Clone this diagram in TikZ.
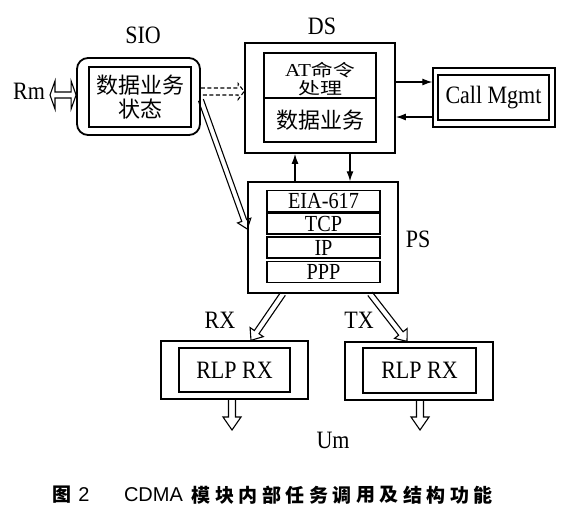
\documentclass[tikz,border=0pt]{standalone}
\usepackage{fontspec}
\usepackage{graphicx}
\setmainfont{Liberation Serif}[FakeStretch=0.88]
\newfontfamily\cjk{Noto Sans CJK SC}
\newfontfamily\capfont{Noto Sans CJK SC}
\newfontfamily\capsans{Liberation Sans}
\usetikzlibrary{calc,arrows.meta}
\newcommand{\latf}{\fontsize{25}{26}\selectfont}
\newcommand{\cjkf}{\cjk\fontsize{22}{24}\selectfont}
% single hollow block arrow: [opts]{from}{to}{shaft half width}{head half width}{head length}
\newcommand{\hollowarrow}[6][]{%
  \coordinate (ha-a) at (#2);
  \coordinate (ha-b) at (#3);
  \coordinate (ha-c) at ($(ha-b)!#6!(ha-a)$);
  \draw[blockarr,#1] ($(ha-a)!#4!90:(ha-b)$) -- ($(ha-c)!#4!-90:(ha-a)$) -- ($(ha-c)!#5!-90:(ha-a)$) -- (ha-b) -- ($(ha-c)!#5!90:(ha-a)$) -- ($(ha-c)!#4!90:(ha-a)$) -- ($(ha-a)!#4!-90:(ha-b)$);
}
% double-headed hollow block arrow
\newcommand{\hollowdarrow}[6][]{%
  \coordinate (hd-a) at (#2);
  \coordinate (hd-b) at (#3);
  \coordinate (hd-ca) at ($(hd-a)!#6!(hd-b)$);
  \coordinate (hd-cb) at ($(hd-b)!#6!(hd-a)$);
  \draw[blockarr,#1] (hd-a) -- ($(hd-ca)!#5!90:(hd-b)$) -- ($(hd-ca)!#4!90:(hd-b)$) -- ($(hd-cb)!#4!-90:(hd-a)$) -- ($(hd-cb)!#5!-90:(hd-a)$) -- (hd-b) -- ($(hd-cb)!#5!90:(hd-a)$) -- ($(hd-cb)!#4!90:(hd-a)$) -- ($(hd-ca)!#4!-90:(hd-b)$) -- ($(hd-ca)!#5!-90:(hd-b)$) -- cycle;
}
\tikzset{
  box/.style={draw, line width=1.3pt, inner sep=0pt},
  outerbox/.style={draw, line width=1.8pt, inner sep=0pt},
  layer/.style={box, minimum width=113pt, minimum height=21pt, text height=15pt, text depth=0pt, font=\fontsize{23}{24}\selectfont},
  lbl/.style={inner sep=0pt, font=\latf},
  sarr/.style={line width=1.2pt, -{Latex[length=10pt,width=7pt]}},
  blockarr/.style={line width=1.1pt, line join=miter},
  capstyle/.style={inner sep=0pt, font=\capfont\bfseries\fontsize{19}{21}\selectfont},
  capsansstyle/.style={inner sep=0pt, font=\capsans\fontsize{20}{22}\selectfont}
}
\begin{document}
\begin{tikzpicture}[x=1pt,y=-1pt]
\fill[white] (0,0) rectangle (569,517);
\useasboundingbox (0,0) rectangle (569,517);

% SIO
\node[lbl] (siolbl) at (143,35.5) {SIO};
\node[outerbox, rounded corners=11pt, minimum width=123pt, minimum height=77pt] (sio) at (138.5,96.5) {};
\node[box, minimum width=102pt, minimum height=60pt, align=center, font=\cjkf] (siotxt) at (140,97) {数据业务\\状态};

% DS
\node[lbl] (dslbl) at (322,26) {DS};
\node[outerbox, minimum width=150pt, minimum height=110pt] (ds) at (320,98) {};
\node[box, minimum width=112pt, minimum height=45pt] (dsat) at (320,75.5) {};
\node[inner sep=0pt, align=center, font=\fontsize{22}{18}\selectfont] (dsattxt) at (320,79.5) {\scalebox{1}[0.76]{{\fontsize{24}{24}\selectfont AT}{\cjk 命令}}\\\scalebox{1}[0.76]{\cjk 处理}};
\node[box, minimum width=112pt, minimum height=44pt, font=\cjkf] (dsdata) at (320,120) {数据业务};

% Call Mgmt
\node[box, minimum width=122pt, minimum height=59pt] (call) at (494,97.5) {};
\node[box, minimum width=111pt, minimum height=45pt, font=\latf] (callin) at (493.5,97.5) {Call Mgmt};

% PS
\node[lbl] (pslbl) at (418,239.5) {PS};
\node[draw, line width=1.5pt, inner sep=0pt, minimum width=150pt, minimum height=111pt] (ps) at (323,237.5) {};
\node[layer] (eia) at (323.5,201) {EIA-617};
\node[layer] (tcp) at (323.5,223.5) {TCP};
\node[layer] (ip) at (323.5,247.5) {IP};
\node[layer] (ppp) at (323.5,272) {PPP};

% RLP boxes
\node[box, minimum width=147pt, minimum height=58pt] (rlpl) at (234.5,370) {};
\node[box, minimum width=111pt, minimum height=44pt, font=\latf] (rlplin) at (234.5,370) {RLP RX};
\node[box, minimum width=148pt, minimum height=58pt] (rlpr) at (419,371) {};
\node[box, minimum width=113pt, minimum height=45pt, font=\latf] (rlprin) at (419.5,370.5) {RLP RX};

% labels
\node[lbl] (rmlbl) at (29,91.5) {Rm};
\node[lbl] (rxlbl) at (220,320) {RX};
\node[lbl] (txlbl) at (359,320) {TX};
\node[lbl] (umlbl) at (333,440) {Um};

% solid arrows
\draw[sarr] (ds.east |- 0,82) -- (call.west |- 0,82);
\draw[sarr] (call.west |- 0,117) -- (ds.east |- 0,117);
\draw[sarr] (ps.north -| 295,0) -- (ds.south -| 295,0);
\draw[sarr] (ds.south -| 350,0) -- (ps.north -| 350,0);

% hollow arrows
\coordinate (rmtip) at (50,95);
\hollowdarrow{rmtip}{sio.west |- rmtip}{3pt}{14pt}{5pt}
\hollowarrow[dash pattern=on 4pt off 2.5pt]{sio.east |- 0,91.5}{ds.west |- 0,91.5}{3.5pt}{8pt}{6pt}
\hollowarrow{sio.east |- 0,100}{ps.west |- 0,229}{2.6pt}{7pt}{9pt}
\hollowarrow{$(ps.south)+(-40,0)$}{$(rlpl.north)+(16.5,0)$}{2.8pt}{8pt}{10pt}
\hollowarrow{$(ps.south)+(47,0)$}{$(rlpr.north)+(-12,0)$}{2.8pt}{8pt}{10pt}
\coordinate (downl) at (232,430);
\coordinate (downr) at (420,430);
\hollowarrow{rlpl.south -| downl}{downl}{3.5pt}{9pt}{13pt}
\hollowarrow{rlpr.south -| downr}{downr}{3.5pt}{9pt}{13pt}

% caption
\node[capstyle] (capfig) at (61.5,495) {图};
\node[capsansstyle] (capnum) at (84,495) {2};
\node[capsansstyle] (capcdma) at (153.5,495) {CDMA};
\foreach \ch [count=\i from 0] in {模,块,内,部,任,务,调,用,及,结,构,功,能}
  \node[capstyle] (cap\i) at (201+23.5*\i,495) {\ch};
\end{tikzpicture}
\end{document}
